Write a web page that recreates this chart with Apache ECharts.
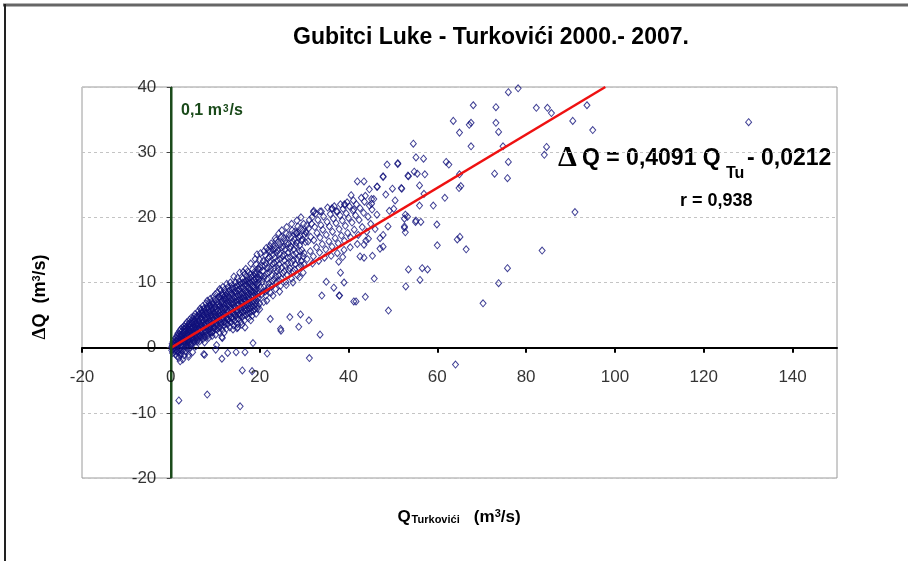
<!DOCTYPE html>
<html><head><meta charset="utf-8">
<script src="https://cdn.jsdelivr.net/npm/echarts@6/dist/echarts.min.js"></script>
<style>html,body{margin:0;padding:0;background:#fff}#c{width:908px;height:561px}</style>
</head><body><div id="c"></div>
<script>
// ---- Data (Q_Turkovici [m3/s], deltaQ [m3/s]) ----
const bandA = [[0.2,0.1],[0.2,-0.4],[0.3,0.6],[0.4,-0.8],[0.5,0.9],[0.5,-0.2],[0.7,0.4],[0.7,1.2],[0.8,-0.5],[0.9,0.1],
[1.0,0.7],[1.1,1.5],[1.0,-1.0],[1.2,0.3],[1.2,-0.3],[1.3,1.0],[1.4,1.9],[1.4,-1.3],[1.5,0.2],[1.6,1.3],
[1.6,2.2],[1.7,-0.7],[1.7,0.6],[1.8,-1.6],[1.9,1.0],[2.0,1.7],[2.0,2.6],[2.1,-0.2],[2.1,-1.1],[2.2,1.3],
[2.3,2.9],[2.3,0.4],[2.4,-0.9],[2.4,2.0],[2.5,0.9],[2.6,1.8],[2.6,3.1],[2.7,-0.4],[2.7,-1.8],[2.8,1.4],
[2.9,2.4],[2.9,0.5],[3.0,3.3],[3.0,-1.2],[3.1,1.0],[3.2,2.0],[3.2,2.9],[3.3,3.6],[3.3,-0.6],[3.4,0.3],
[3.5,1.6],[3.5,2.6],[3.6,0.8],[3.6,3.9],[3.7,-0.2],[3.8,1.2],[3.8,2.2],[3.9,3.3],[3.9,0.4],[4.0,-1.4],
[4.1,1.8],[4.1,2.8],[4.2,3.8],[4.2,4.3],[4.3,0.9],[4.3,0.0],[4.4,1.4],[4.5,2.4],[4.5,3.4],[4.6,0.5],
[4.6,4.6],[4.7,2.0],[4.8,3.0],[4.8,4.1],[4.9,1.1],[4.9,-0.7],[5.0,1.6],[5.1,2.6],[5.1,3.6],[5.2,4.8],
[5.2,0.7],[5.3,2.2],[5.4,3.2],[5.4,4.3],[5.5,1.2],[5.5,5.2],[5.6,0.2],[5.7,1.8],[5.7,2.9],[5.8,3.8],
[5.9,4.9],[5.9,0.9],[6.0,2.5],[6.0,3.5],[6.1,4.6],[6.2,1.5],[6.2,5.6],[6.3,2.0],[6.4,3.0],[6.4,4.1],
[6.5,5.2],[6.5,1.0],[6.6,6.0],[6.7,2.7],[6.7,3.7],[6.8,4.7],[6.8,1.6],[6.9,5.8],[7.0,2.3],[7.0,3.3],
[7.1,4.3],[7.1,5.4],[7.2,6.4],[7.2,1.3],[7.3,2.9],[7.4,4.0],[7.4,5.0],[7.5,1.8],[7.5,6.1],[7.6,0.8],
[7.7,2.5],[7.7,3.5],[7.8,4.6],[7.8,5.7],[7.9,6.8],[8.0,3.1],[8.0,4.2],[8.1,5.2],[8.1,2.0],[8.2,6.3],
[8.2,7.2],[8.3,2.7],[8.4,3.8],[8.4,4.9],[8.5,5.9],[8.5,1.5],[8.6,6.9],[8.7,3.3],[8.7,4.4],[8.8,5.4],
[8.8,2.3],[8.9,6.5],[8.9,7.5],[9.0,2.9],[9.1,4.0],[9.1,5.1],[9.2,6.1],[9.2,7.1],[9.3,1.8],[9.4,3.6],
[9.4,4.6],[9.5,5.7],[9.5,2.5],[9.6,6.7],[9.6,7.8],[9.7,3.1],[9.8,4.2],[9.8,5.3],[9.9,6.3],[9.9,7.4],[10.0,8.2]];

const bandA2 = [[0.35,0.3],[0.6,-0.1],[0.85,0.8],[1.05,0.2],[1.15,1.1],[1.35,-0.6],[1.45,0.6],[1.55,1.7],[1.75,0.9],[1.85,-0.3],
[1.95,2.1],[2.15,0.8],[2.25,1.8],[2.35,-0.5],[2.45,2.5],[2.55,0.2],[2.65,1.3],[2.75,2.2],[2.85,0.9],[2.95,2.9],
[3.05,1.6],[3.15,0.6],[3.25,2.5],[3.35,1.3],[3.45,3.2],[3.55,0.1],[3.65,2.1],[3.75,1.7],[3.85,2.8],[3.95,0.9],
[4.05,3.6],[4.15,1.3],[4.25,2.4],[4.35,3.1],[4.45,0.6],[4.55,1.9],[4.65,2.9],[4.75,3.8],[4.85,1.5],[4.95,4.4],
[5.05,2.2],[5.15,3.1],[5.25,1.0],[5.35,4.0],[5.45,2.7],[5.55,3.6],[5.65,1.5],[5.75,4.6],[5.85,2.3],[5.95,3.3],
[6.05,1.2],[6.15,4.1],[6.25,2.8],[6.35,5.1],[6.45,3.6],[6.55,1.8],[6.65,4.5],[6.75,2.3],[6.85,3.3],[6.95,5.3],
[7.05,1.8],[7.15,3.8],[7.25,4.9],[7.35,2.5],[7.45,5.9],[7.55,3.5],[7.65,4.4],[7.75,1.6],[7.85,5.3],[7.95,2.4],
[8.05,3.7],[8.15,6.0],[8.25,4.6],[8.35,1.8],[8.45,3.2],[8.55,5.4],[8.65,4.0],[8.75,6.4],[8.85,2.9],[8.95,4.9],
[9.05,3.5],[9.15,5.7],[9.25,2.4],[9.35,6.7],[9.45,4.2],[9.55,5.2],[9.65,3.0],[9.75,6.1],[9.85,3.7],[9.95,4.8]];

const bandB = [[10.1,2.0],[10.2,3.8],[10.2,4.9],[10.3,5.9],[10.4,2.8],[10.4,7.0],[10.5,8.5],[10.6,3.5],[10.6,4.6],[10.7,5.7],
[10.8,6.8],[10.8,7.8],[10.9,2.4],[11.0,4.2],[11.0,5.3],[11.1,6.4],[11.1,3.1],[11.2,7.5],[11.3,8.8],[11.3,3.8],
[11.4,4.9],[11.5,6.0],[11.5,7.1],[11.6,8.2],[11.6,2.7],[11.7,9.3],[11.8,4.5],[11.8,5.6],[11.9,6.7],[12.0,3.4],
[12.0,7.8],[12.1,8.9],[12.2,4.0],[12.2,5.2],[12.3,6.3],[12.4,7.4],[12.4,8.5],[12.5,2.9],[12.6,4.7],[12.6,5.8],
[12.7,7.0],[12.8,3.6],[12.8,8.1],[12.9,9.3],[13.0,4.3],[13.0,5.5],[13.1,6.6],[13.2,7.7],[13.2,8.8],[13.3,3.1],
[13.4,10.0],[13.4,5.0],[13.5,6.2],[13.6,7.3],[13.6,3.9],[13.7,8.4],[13.8,9.6],[13.8,4.6],[13.9,5.8],[14.0,6.9],
[14.0,8.0],[14.1,9.1],[14.2,3.4],[14.2,5.3],[14.3,6.4],[14.4,7.6],[14.4,4.1],[14.5,8.7],[14.6,10.0],[14.6,4.9],
[14.7,6.1],[14.8,7.2],[14.8,8.3],[14.9,9.5],[15.0,3.6],[15.0,10.7],[15.1,5.6],[15.2,6.7],[15.2,7.9],[15.3,4.4],
[15.4,9.0],[15.4,10.2],[15.5,5.2],[15.6,6.4],[15.6,7.5],[15.7,8.6],[15.8,9.8],[15.8,3.9],[15.9,5.9],[16.0,7.0],
[16.0,8.2],[16.1,4.7],[16.2,9.3],[16.2,10.6],[16.3,5.5],[16.4,6.7],[16.4,7.8],[16.5,8.9],[16.6,10.1],[16.6,4.2],
[16.7,11.3],[16.8,6.2],[16.8,7.3],[16.9,8.5],[17.0,5.0],[17.0,9.7],[17.1,10.9],[17.2,5.8],[17.2,7.0],[17.3,8.1],
[17.4,9.3],[17.4,10.4],[17.5,4.5],[17.6,6.5],[17.6,7.7],[17.7,8.8],[17.8,5.3],[17.8,10.0],[17.9,11.3],[18.0,6.1],
[18.0,7.3],[18.1,8.5],[18.2,9.6],[18.2,10.8],[18.3,4.9],[18.4,12.0],[18.4,6.8],[18.5,8.0],[18.6,9.2],[18.6,5.6],
[18.7,10.4],[18.8,11.6],[18.8,6.4],[18.9,7.6],[19.0,8.8],[19.0,10.0],[19.1,11.2],[19.2,5.2],[19.2,12.8],[19.3,7.2],
[19.4,8.4],[19.4,9.6],[19.5,6.0],[19.6,10.8],[19.6,12.1],[19.7,7.6],[19.8,8.8],[19.8,10.0],[19.9,11.2],[20.0,6.8],
[20.0,12.4],[20.0,13.5],[15.5,11.5],[16.9,12.1],[18.0,12.9],[19.0,13.6],[20.2,14.5],[14.2,10.9],[12.6,9.8],[11.0,9.0],
[12.0,2.3],[14.0,2.8],[16.0,3.5],[18.0,4.2],[20.0,5.9]];

const bandB2 = [[10.15,5.4],[10.25,3.3],[10.35,6.5],[10.45,4.3],[10.55,7.5],[10.65,5.1],[10.75,3.0],[10.85,6.3],[10.95,4.8],[11.05,7.8],
[11.15,5.8],[11.25,3.5],[11.35,6.9],[11.45,4.4],[11.55,8.0],[11.65,5.2],[11.75,6.2],[11.85,3.9],[11.95,7.4],[12.05,5.0],
[12.15,6.0],[12.25,8.0],[12.35,3.7],[12.45,6.8],[12.55,5.3],[12.65,7.6],[12.75,4.3],[12.85,6.4],[12.95,8.6],[13.05,5.0],
[13.15,7.1],[13.25,4.0],[13.35,6.0],[13.45,8.3],[13.55,4.6],[13.65,6.8],[13.75,9.1],[13.85,5.3],[13.95,7.4],[14.05,4.4],
[14.15,6.0],[14.25,8.5],[14.35,5.0],[14.45,7.0],[14.55,9.3],[14.65,5.6],[14.75,7.8],[14.85,4.5],[14.95,6.6],[15.05,8.8],
[15.15,5.0],[15.25,7.3],[15.35,9.6],[15.45,6.0],[15.55,8.1],[15.65,4.9],[15.75,7.0],[15.85,9.2],[15.95,5.4],[16.05,7.6],
[16.15,10.0],[16.25,6.2],[16.35,8.4],[16.45,5.0],[16.55,7.3],[16.65,9.6],[16.75,5.7],[16.85,7.9],[16.95,10.3],[17.05,6.6],
[17.15,8.6],[17.25,5.3],[17.35,7.5],[17.45,9.9],[17.55,6.0],[17.65,8.3],[17.75,10.7],[17.85,6.8],[17.95,9.0],[18.05,5.6],
[18.15,7.9],[18.25,10.2],[18.35,6.3],[18.45,8.6],[18.55,11.1],[18.65,7.1],[18.75,9.3],[18.85,5.9],[18.95,8.2],[19.05,10.6],
[19.15,6.7],[19.25,9.0],[19.35,11.6],[19.45,7.8],[19.55,9.9],[19.65,6.4],[19.75,8.3],[19.85,10.5],[19.95,12.0]];

const bandC = [[20.5,8.2],[20.6,10.1],[20.7,11.8],[20.8,13.3],[20.9,7.0],[21.0,9.3],[21.1,11.0],[21.2,12.6],[21.3,14.2],[21.4,8.0],
[21.5,15.3],[21.6,8.8],[21.7,10.5],[21.8,12.2],[21.9,13.7],[22.0,15.0],[22.1,9.9],[22.2,11.6],[22.3,13.2],[22.4,14.7],
[22.5,8.4],[22.6,16.0],[22.7,9.4],[22.8,11.1],[22.9,12.8],[23.0,14.3],[23.1,15.6],[23.2,10.5],[23.3,12.2],[23.4,13.8],
[23.5,15.2],[23.6,9.0],[23.7,16.5],[23.8,10.0],[23.9,11.7],[24.0,13.4],[24.1,14.9],[24.2,16.2],[24.3,11.1],[24.4,12.8],
[24.5,14.4],[24.6,15.8],[24.7,9.5],[24.8,17.0],[24.9,10.6],[25.0,12.3],[25.2,14.0],[25.3,15.5],[25.4,16.8],[25.5,11.7],
[25.6,13.4],[25.7,15.0],[25.8,16.4],[25.9,10.1],[26.0,17.5],[26.2,11.2],[26.3,12.9],[26.4,14.6],[26.5,16.0],[26.6,17.3],
[26.8,12.2],[26.9,13.9],[27.0,15.5],[27.1,16.9],[27.2,10.6],[27.3,18.0],[27.5,11.7],[27.6,13.4],[27.7,15.1],[27.8,16.6],
[27.9,17.8],[28.0,12.8],[28.2,14.5],[28.3,16.1],[28.4,17.5],[28.5,11.1],[28.6,18.6],[28.8,12.3],[28.9,14.0],[29.0,15.7],
[29.1,17.1],[29.2,18.3],[29.4,13.3],[29.5,15.0],[29.6,16.6],[29.7,18.0],[29.8,11.5],[29.9,19.0],[30.0,12.8],[30.0,14.5]];

const bandC2 = [[20.3,9.2],[20.6,12.5],[20.9,10.6],[21.2,8.6],[21.4,13.0],[21.7,11.4],[22.0,9.3],[22.2,13.9],[22.5,12.1],[22.8,10.2],
[23.0,15.0],[23.3,13.0],[23.6,11.0],[23.8,14.6],[24.1,12.2],[24.4,10.3],[24.6,13.6],[24.9,15.4],[25.2,11.4],[25.5,14.3],
[25.7,12.6],[26.0,16.0],[26.3,13.8],[26.6,11.8],[26.8,15.2],[27.1,13.0],[27.4,16.3],[27.6,14.2],[27.9,12.0],[28.2,15.6],
[28.5,13.5],[28.7,17.0],[29.0,14.8],[29.3,12.6],[29.5,16.4],[29.8,14.0],[30.1,17.4],[20.4,11.0],[21.0,14.8],[22.3,15.6],
[23.5,16.8],[24.3,17.5],[25.0,18.0],[26.1,18.5],[27.2,19.0],[28.4,19.5],[29.3,20.0],[21.6,7.2],[23.0,8.0],[24.5,8.6],
[26.0,9.6],[27.5,10.0],[29.0,10.8]];

const bandD = [[30.3,16.2],[30.5,17.6],[30.6,18.8],[30.7,13.6],[30.9,16.3],[31.0,18.3],[31.2,19.6],[31.4,14.8],[31.5,17.0],[31.7,19.0],
[31.8,20.0],[31.9,12.9],[32.1,14.0],[32.2,16.5],[32.4,18.5],[32.6,20.6],[32.8,15.4],[32.9,17.6],[33.1,19.6],[33.3,13.3],
[33.5,14.6],[33.6,16.9],[33.8,18.8],[33.9,20.9],[34.1,15.9],[34.2,18.1],[34.4,20.1],[34.6,13.8],[34.9,15.1],[35.0,17.3],
[35.2,19.3],[35.3,21.5],[35.6,16.3],[35.7,18.6],[35.9,20.5],[36.1,14.1],[36.3,15.5],[36.4,17.8],[36.6,19.8],[36.8,21.7],
[37.0,16.8],[37.2,19.1],[37.3,20.9],[37.5,14.5],[37.7,16.0],[37.9,18.2],[38.1,20.3],[38.2,22.0],[38.4,17.2],[38.6,19.5],
[38.8,21.3],[39.0,15.0],[39.1,16.4],[39.3,18.7],[39.5,20.6],[39.7,22.3],[39.8,17.6],[40.0,19.9],[40.2,21.7],[40.4,15.4],
[40.5,16.9],[40.8,19.2],[41.0,21.0],[41.1,22.6],[41.3,18.1],[41.6,20.3],[41.8,22.0],[42.0,15.9],[42.2,17.3],[42.4,19.6],
[42.6,21.4],[42.9,23.0],[43.1,18.5],[43.4,20.7],[43.6,22.4],[43.9,16.4],[44.1,17.8],[44.4,20.1],[44.7,21.8],[45.0,19.0],
[45.3,21.2],[45.7,22.8],[46.0,18.2],[46.4,20.4]];

const sparseHigh = [[76.0,39.2],[78.2,39.8],[68.1,37.2],[73.2,36.9],[82.3,36.8],[84.8,36.8],[85.7,36.0],[63.6,34.8],[67.2,34.2],[67.6,34.5],
[73.2,34.5],[65.0,33.0],[73.8,33.1],[90.5,34.8],[67.6,30.9],[74.8,30.9],[84.6,30.8],[84.1,29.6],[54.6,31.3],[55.2,29.2],
[56.9,29.0],[48.7,28.1],[51.1,28.3],[62.0,28.5],[62.6,28.1],[76.0,28.5],[47.8,26.2],[53.5,26.3],[54.8,27.0],[55.5,26.7],
[57.2,26.6],[72.9,26.7],[75.8,26.0],[65.0,26.6],[56.0,24.9],[64.9,24.5],[65.3,24.8],[51.9,24.5],[49.9,24.4],[46.4,24.7],
[52.0,24.4],[57.0,23.6],[61.7,23.0],[59.1,21.8],[56.0,21.8],[50.2,21.3],[52.8,20.4],[53.3,20.1],[55.1,19.3],[56.3,19.3],
[52.6,18.6],[52.8,17.7],[59.9,18.9],[64.5,16.6],[65.1,17.0],[60.0,15.7],[66.5,15.1],[83.6,14.9],[91.0,20.8],[75.8,12.2],
[53.5,12.0],[56.6,12.2],[57.8,12.0],[56.1,10.4],[52.9,9.4],[73.8,9.9],[70.3,6.8],[49.0,5.7],[45.8,10.6],[43.8,7.8],
[41.7,7.1],[38.0,8.0],[36.7,9.2],[39.0,10.0],[93.7,37.2],[95.0,33.4],[130.1,34.6],[64.1,-2.6]];

const sparseMid = [[42.0,25.5],[43.5,25.5],[51.1,28.2],[47.8,26.3],[53.4,26.4],[46.5,24.7],[48.4,23.5],[44.7,24.3],[43.8,23.3],[40.6,23.4],
[39.1,22.0],[45.2,22.8],[45.2,22.1],[50.5,22.6],[49.2,21.0],[32.2,21.0],[33.6,20.9],[36.3,21.3],[37.5,20.9],[52.6,19.8],
[55.2,19.5],[52.6,18.4],[48.9,18.6],[47.8,17.3],[47.1,16.8],[47.8,15.5],[47.1,15.2],[44.5,16.7],[43.5,15.8],[45.4,14.1],
[42.6,14.0],[43.5,13.8],[38.7,13.9],[37.8,13.2],[41.2,7.1],[37.9,8.0],[34.0,8.0],[35.0,10.1],[38.2,11.5]];

const sparseLow = [[1.8,-8.1],[8.2,-7.2],[15.6,-9.0],[16.1,-3.5],[18.3,-3.6],[21.7,-0.9],[18.5,0.7],[16.7,-0.7],[14.7,-0.7],[12.8,-0.8],
[11.5,-1.7],[11.6,1.5],[10.1,-0.3],[10.3,0.4],[7.4,-1.0],[31.2,-1.6],[24.8,2.6],[4.0,-1.1],[2.1,-2.1],[33.6,2.0],
[28.8,3.2],[24.7,2.9],[26.8,4.7],[29.2,5.1],[31.1,4.2],[22.4,4.4],[15.1,3.1],[16.7,3.1],[11.5,1.6],[14.9,3.0],
[9.3,2.3],[7.6,-1.1],[19.4,14.3],[16.3,11.6],[17.3,11.7],[28.3,17.6],[30.4,17.8],[32.1,20.8],[36.3,21.4],[39.2,21.9],[41.2,21.2]];

// Regression: deltaQ = 0.4091 * Q_Tu - 0.0212
const slope = 0.4091, intercept = -0.0212;
const thresholdQ = 0.1;  // 0,1 m3/s
const xTicks = [-20, 0, 20, 40, 60, 80, 100, 120, 140];
const yTicks = [-20, -10, 0, 10, 20, 30, 40];
const yMin = -20, yMax = 40, xMin = -20, xMax = 150;

const allPoints = bandA.concat(bandA2, bandB, bandB2, bandC, bandC2, bandD, sparseHigh, sparseMid, sparseLow);
const trendEndX = (yMax - intercept) / slope;

const chart = echarts.init(document.getElementById('c'), null, {renderer: 'canvas'});
const FONT = '"Liberation Sans", Arial, sans-serif';
chart.setOption({
  backgroundColor: '#ffffff',
  animation: false,
  grid: {left: 82, top: 87, width: 755, height: 391, show: true, borderColor: '#9a9a9a', borderWidth: 1, backgroundColor: 'transparent'},
  xAxis: {
    type: 'value', min: xMin, max: xMax, interval: 20,
    axisLine: {onZero: true, lineStyle: {color: '#000', width: 2}},
    axisTick: {show: true, length: 5, customValues: xTicks, lineStyle: {color: '#000', width: 2}},
    axisLabel: {show: false},
    splitLine: {show: false}
  },
  yAxis: {
    type: 'value', min: yMin, max: yMax, interval: 10,
    axisLine: {onZero: true, lineStyle: {color: '#000', width: 1}},
    axisTick: {show: true, length: 4, lineStyle: {color: '#444'}},
    axisLabel: {show: false},
    splitLine: {show: true, lineStyle: {type: [3, 3], color: '#c4c4c4', width: 1}}
  },
  series: [
    {
      type: 'scatter', data: allPoints, symbol: 'diamond', symbolSize: [6, 7],
      itemStyle: {color: 'rgba(255,255,255,0)', borderColor: '#10107a', borderWidth: 1},
      z: 3, silent: true
    },
    {
      type: 'line', data: [[0, intercept], [trendEndX, slope * trendEndX + intercept]],
      symbol: 'none', lineStyle: {color: '#ee1111', width: 2.5}, z: 4, silent: true
    },
    {
      type: 'line', data: [[thresholdQ, yMin], [thresholdQ, yMax]],
      symbol: 'none', lineStyle: {color: '#1a4a1a', width: 2.5}, z: 5, silent: true
    },
    {
      type: 'scatter', data: xTicks.map(v => [v, 0]), symbolSize: 1, itemStyle: {color: 'rgba(0,0,0,0)'},
      label: {show: true, position: 'bottom', distance: 21, formatter: p => String(p.value[0]), fontSize: 17, color: '#000', fontFamily: FONT},
      z: 6, silent: true, clip: false
    },
    {
      type: 'scatter', data: yTicks.map(v => [0, v]), symbolSize: 1, itemStyle: {color: 'rgba(0,0,0,0)'},
      label: {show: true, position: 'left', distance: 14, formatter: p => String(p.value[1]), fontSize: 17, color: '#000', fontFamily: FONT},
      z: 6, silent: true, clip: false
    }
  ],
  graphic: [
    {type: 'line', shape: {x1: 3, y1: 5, x2: 908, y2: 5}, style: {stroke: '#666', lineWidth: 3}, silent: true},
    {type: 'line', shape: {x1: 5, y1: 4, x2: 5, y2: 561}, style: {stroke: '#222', lineWidth: 2}, silent: true},
    {type: 'text', x: 491, y: 38, style: {text: 'Gubitci Luke - Turkovići 2000.- 2007.', font: 'bold 23px ' + FONT, fill: '#000', textAlign: 'center', textVerticalAlign: 'middle'}},
    {type: 'text', x: 181, y: 111, style: {text: '{a|0,1 m}{b|3}{a|/s}', rich: {a: {font: 'bold 16px ' + FONT, fill: '#1a4a1a'}, b: {font: 'bold 10px ' + FONT, fill: '#1a4a1a', padding: [0, 1, 4, 1]}}, textVerticalAlign: 'middle'}},
    {type: 'text', x: 558, y: 158, style: {text: 'Δ', font: 'bold 30px "Liberation Serif", "Times New Roman", serif', fill: '#000', textVerticalAlign: 'middle'}},
    {type: 'text', x: 582, y: 159, style: {text: 'Q = 0,4091 Q', font: 'bold 23px ' + FONT, fill: '#000', textVerticalAlign: 'middle'}},
    {type: 'text', x: 726, y: 174, style: {text: 'Tu', font: 'bold 16px ' + FONT, fill: '#000', textVerticalAlign: 'middle'}},
    {type: 'text', x: 747, y: 159, style: {text: '- 0,0212', font: 'bold 23px ' + FONT, fill: '#000', textVerticalAlign: 'middle'}},
    {type: 'text', x: 680, y: 201, style: {text: 'r = 0,938', font: 'bold 18px ' + FONT, fill: '#000', textVerticalAlign: 'middle'}},
    {type: 'text', x: 40, y: 297, rotation: Math.PI / 2, style: {text: '{d|Δ}{a|Q  (m}{b|3}{a|/s)}', rich: {d: {font: 'bold 19px "Liberation Serif", serif', fill: '#000'}, a: {font: 'bold 18px ' + FONT, fill: '#000'}, b: {font: 'bold 11px ' + FONT, fill: '#000', padding: [0, 0, 7, 0]}}, textAlign: 'center', textVerticalAlign: 'middle'}},
    {type: 'text', x: 459, y: 517, style: {text: '{q|Q}{s|Turkovići}{a|   (m}{b|3}{a|/s)}', rich: {q: {font: 'bold 17px ' + FONT, fill: '#000'}, s: {font: 'bold 11px ' + FONT, fill: '#000', padding: [5, 0, 0, 1]}, a: {font: 'bold 17px ' + FONT, fill: '#000'}, b: {font: 'bold 11px ' + FONT, fill: '#000', padding: [0, 0, 7, 0]}}, textAlign: 'center', textVerticalAlign: 'middle'}}
  ]
});
</script></body></html>
